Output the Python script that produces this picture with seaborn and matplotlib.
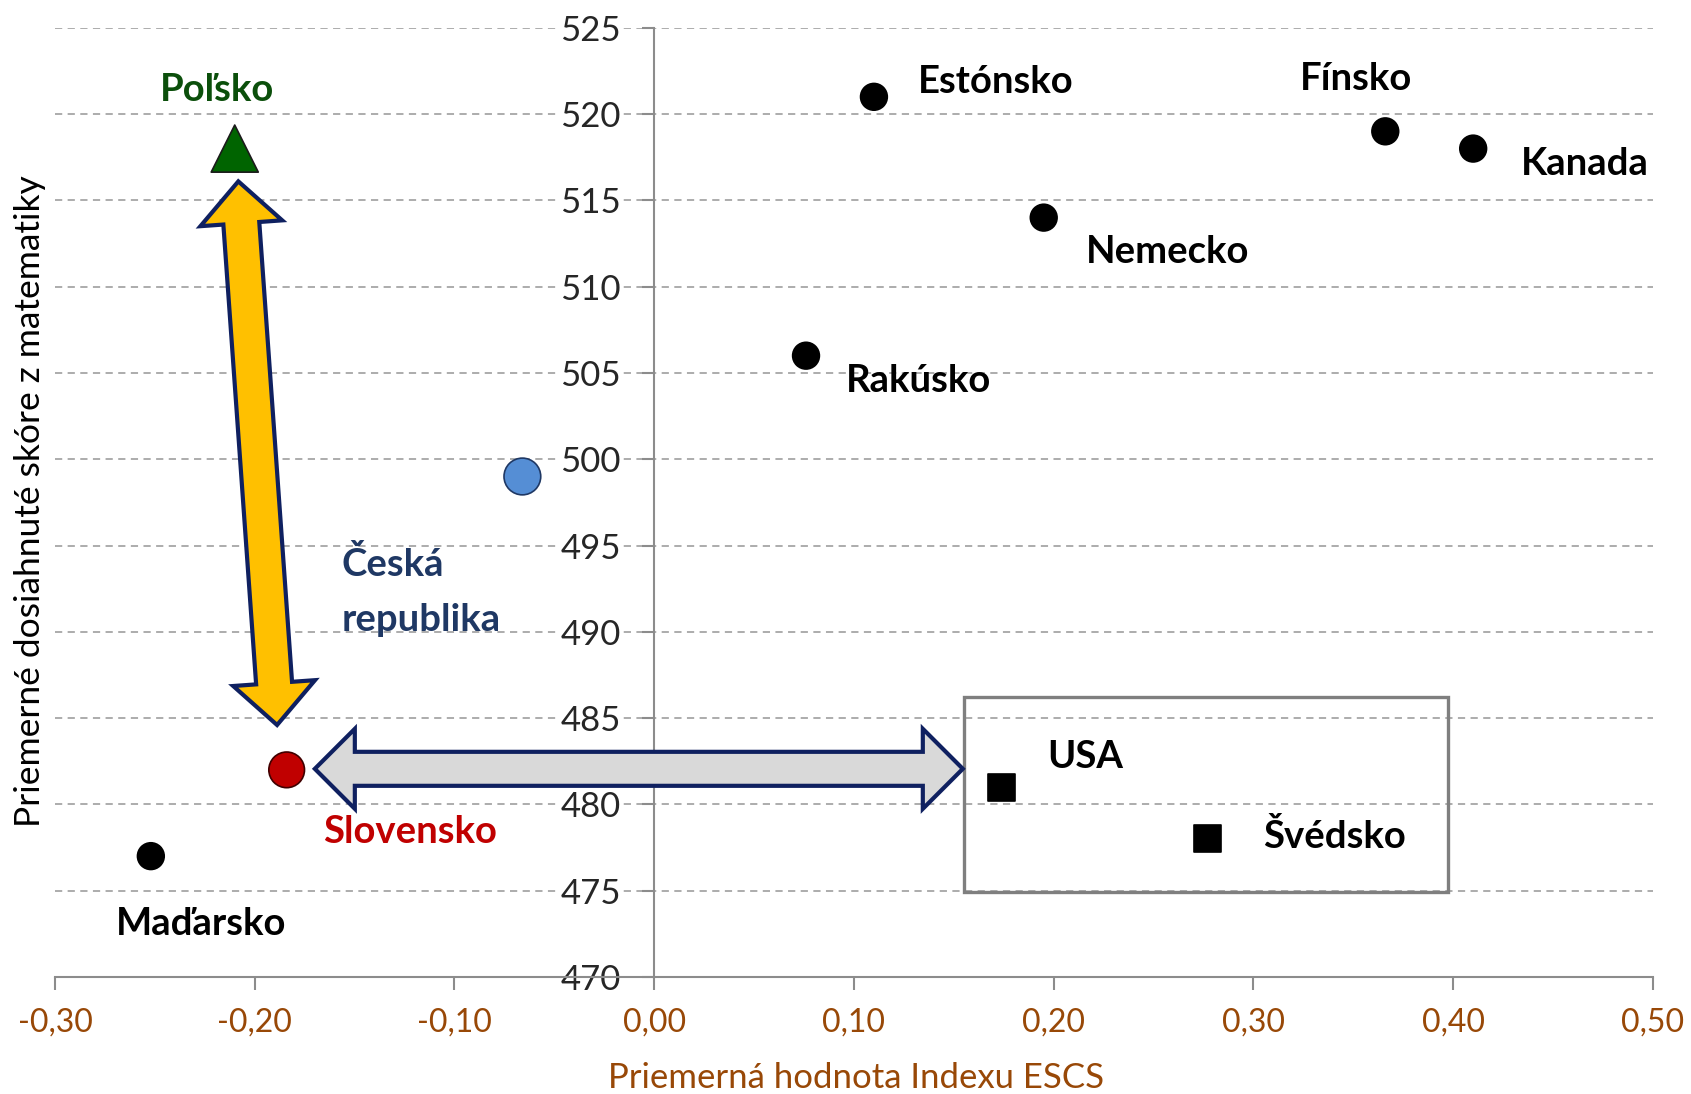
import numpy as np
import pandas as pd
import seaborn as sns
import matplotlib.pyplot as plt
import matplotlib.patches as mpatches
import matplotlib.transforms as mtransforms

# data
countries = ['Poľsko', 'Estónsko', 'Fínsko', 'Kanada', 'Nemecko', 'Rakúsko',
             'Česká\nrepublika', 'Slovensko', 'Maďarsko', 'USA', 'Švédsko']
escs = [-0.21, 0.11, 0.366, 0.41, 0.195, 0.076, -0.066, -0.184, -0.252, 0.174, 0.277]
score = [518, 521, 519, 518, 514, 506, 499, 482, 477, 481, 478]
group = ['pl', 'ine', 'ine', 'ine', 'ine', 'ine', 'cz', 'sk', 'ine', 'box', 'box']

x_ticks = [-0.3, -0.2, -0.1, 0.0, 0.1, 0.2, 0.3, 0.4, 0.5]
y_ticks = [470, 475, 480, 485, 490, 495, 500, 505, 510, 515, 520, 525]

# label placement (offset in points, alignment, colour)
lab_off = [(-13, 42), (32, 11), (-21, 38), (34, -11), (30, -25), (29, -18),
           (-130, -83), (26, -45), (-25, -49), (33, 22), (40, 2)]
lab_ha = ['center', 'left', 'center', 'left', 'left', 'left',
          'left', 'left', 'left', 'left', 'left']
lab_col = ['#0b4f0b', 'black', 'black', 'black', 'black', 'black',
           '#1f3864', '#c00000', 'black', 'black', 'black']

df = pd.DataFrame({'country': countries, 'escs': escs, 'score': score, 'group': group})

sns.set_style('white')
plt.rcParams['font.family'] = ['Lato', 'DejaVu Sans']

fig = plt.figure(figsize=(16.91, 10.94), dpi=100)
ax = fig.add_axes([0.0325, 0.107, 0.945, 0.8676])
ax.set_xlim(-0.30, 0.50)
ax.set_ylim(470, 525)

brown = '#984807'
axcol = '#8c8c8c'

# grid
for yv in y_ticks[1:]:
    ax.axhline(yv, color='#a6a6a6', lw=1.3, ls=(0, (4, 3)), zorder=0)

pal = {'ine': 'black', 'box': 'black', 'pl': '#006400', 'cz': '#558ed5', 'sk': '#c00000'}
mk = {'ine': 'o', 'box': 's', 'pl': '^', 'cz': 'o', 'sk': 'o'}
sz = {'ine': 370, 'box': 380, 'pl': 1150, 'cz': 700, 'sk': 660}
edge = {'ine': 'black', 'box': 'black', 'pl': '#1a1a1a', 'cz': '#1f3864', 'sk': '#400000'}

sns.scatterplot(data=df, x='escs', y='score', hue='group', style='group', size='group',
                palette=pal, markers=mk, sizes=sz, legend=False,
                edgecolor=[edge[g] for g in group], linewidth=1.2, ax=ax, zorder=5)

for i, name in enumerate(countries):
    ax.annotate(name, (escs[i], score[i]), xytext=lab_off[i], textcoords='offset points',
                ha=lab_ha[i], va='center', fontsize=27.5, fontweight='bold',
                color=lab_col[i], linespacing=1.75, zorder=6)

# spines
sns.despine(ax=ax, top=True, right=True)
ax.spines['left'].set_position(('data', 0))
ax.spines['left'].set_color(axcol)
ax.spines['bottom'].set_color(axcol)
ax.spines['left'].set_linewidth(1.5)
ax.spines['bottom'].set_linewidth(1.5)

ax.set_xticks(x_ticks)
ax.set_xticklabels([f'{v:.2f}'.replace('.', ',') for v in x_ticks])
ax.set_yticks(y_ticks)
ax.set_yticklabels([str(v) for v in y_ticks])
ax.tick_params(axis='both', direction='out', length=9, width=1.5, color=axcol,
               labelcolor=brown, labelsize=23)
ax.tick_params(axis='x', pad=13, bottom=True)
ax.tick_params(axis='y', pad=15, left=True, labelcolor='#262626', labelsize=25)
for lbl in ax.get_yticklabels():
    lbl.set_bbox(dict(facecolor='white', edgecolor='none', pad=1))
ax.set_xlabel('')
ax.set_ylabel('')

fig.text(0.506, 0.0146, 'Priemerná hodnota Indexu ESCS', color=brown, fontsize=25,
         ha='center', va='center')
fig.text(0.018, 0.542, 'Priemerné dosiahnuté skóre z matematiky', color='black',
         fontsize=25.5, rotation=90, ha='center', va='center')

# box round USA and Švédsko
ax.add_patch(mpatches.Rectangle((0.155, 474.9), 0.2424, 11.3, fill=False,
                                edgecolor='#7f7f7f', lw=2.4, zorder=4))


def block_arrow(ax, p0, p1, shaft, head_w, head_len, face, edgec):
    a = ax.transData.transform(p0)
    b = ax.transData.transform(p1)
    d = b - a
    u = d / np.hypot(*d)
    n = np.array([-u[1], u[0]])
    pts = [a,
           a + u * head_len + n * head_w / 2,
           a + u * head_len + n * shaft / 2,
           b - u * head_len + n * shaft / 2,
           b - u * head_len + n * head_w / 2,
           b,
           b - u * head_len - n * head_w / 2,
           b - u * head_len - n * shaft / 2,
           a + u * head_len - n * shaft / 2,
           a + u * head_len - n * head_w / 2]
    ax.add_patch(mpatches.Polygon(pts, closed=True, facecolor=face, edgecolor=edgec,
                                  lw=3, joinstyle='miter',
                                  transform=mtransforms.IdentityTransform(), zorder=7))


block_arrow(ax, (-0.2082, 516.1), (-0.1888, 484.6), 36, 82, 42, '#ffc000', '#0f2060')
block_arrow(ax, (-0.1699, 482.06), (0.1545, 482.06), 34, 80, 40, '#d9d9d9', '#0f2060')

fig.savefig('out.png', dpi=100)
